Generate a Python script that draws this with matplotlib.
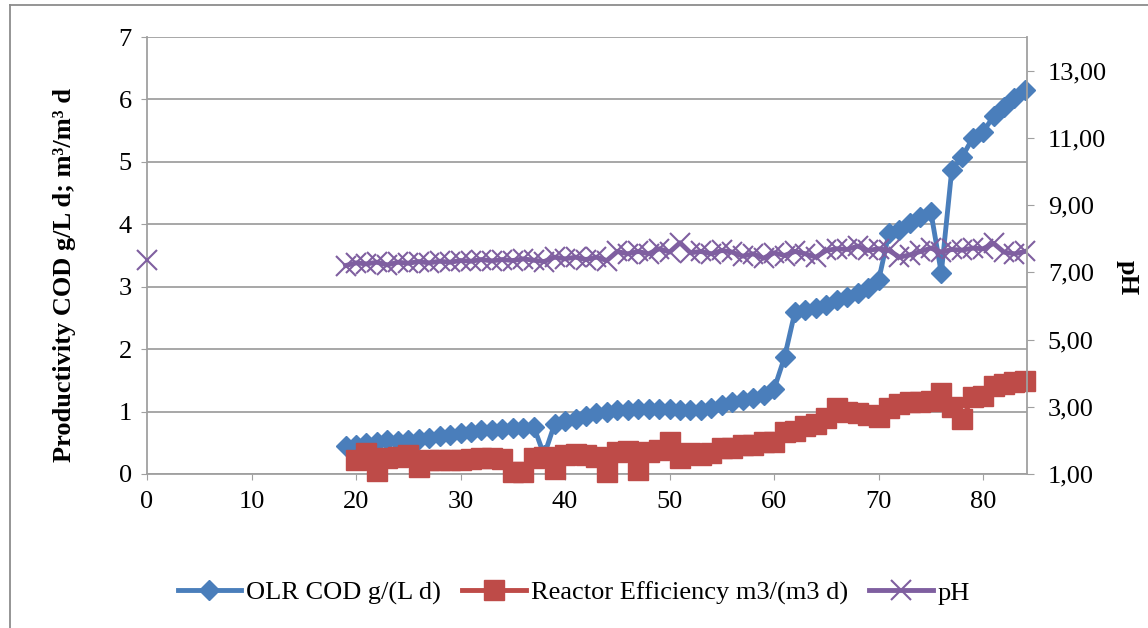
import matplotlib
matplotlib.use('Agg')
import matplotlib.pyplot as plt
from matplotlib.lines import Line2D
from matplotlib.ticker import FuncFormatter

plt.rcParams['font.family'] = ['Liberation Serif', 'DejaVu Serif']
plt.rcParams['font.size'] = 19

# OLR COD g/(L d), days 19..84
olr_day = list(range(19, 85))
olr = [0.45, 0.47, 0.50, 0.52, 0.54, 0.53, 0.55, 0.56, 0.58, 0.61,
       0.63, 0.65, 0.68, 0.70, 0.71, 0.72, 0.73, 0.74, 0.76, 0.30,
       0.80, 0.85, 0.88, 0.93, 0.97, 1.00, 1.02, 1.03, 1.04, 1.04,
       1.04, 1.04, 1.03, 1.03, 1.02, 1.05, 1.10, 1.15, 1.18, 1.21,
       1.26, 1.36, 1.87, 2.60, 2.63, 2.66, 2.71, 2.79, 2.84, 2.90,
       2.98, 3.10, 3.86, 3.91, 4.02, 4.12, 4.20, 3.22, 4.87, 5.08,
       5.38, 5.48, 5.73, 5.88, 6.02, 6.15]

# Reactor efficiency m3/(m3 d), days 20..84
eff_day = list(range(20, 85))
eff = [0.22, 0.33, 0.05, 0.26, 0.28, 0.30, 0.12, 0.22, 0.22, 0.22,
       0.23, 0.24, 0.25, 0.25, 0.24, 0.03, 0.03, 0.25, 0.27, 0.08,
       0.30, 0.32, 0.30, 0.27, 0.03, 0.35, 0.37, 0.07, 0.36, 0.38,
       0.52, 0.26, 0.33, 0.31, 0.33, 0.41, 0.42, 0.46, 0.47, 0.51,
       0.52, 0.68, 0.69, 0.77, 0.80, 0.90, 1.05, 1.00, 0.97, 0.95,
       0.92, 1.06, 1.12, 1.15, 1.15, 1.17, 1.29, 1.07, 0.88, 1.23,
       1.25, 1.41, 1.44, 1.47, 1.49]

# pH: single reading at day 0, then days 19..84
ph0_day = [0]
ph0 = [7.37]
ph_day = list(range(19, 85))
ph = [7.20, 7.28, 7.25, 7.30, 7.22, 7.30, 7.27, 7.32, 7.28, 7.33,
      7.30, 7.35, 7.33, 7.38, 7.34, 7.38, 7.35, 7.40, 7.36, 7.32,
      7.45, 7.40, 7.45, 7.38, 7.45, 7.35, 7.62, 7.55, 7.62, 7.55,
      7.70, 7.60, 7.88, 7.58, 7.62, 7.55, 7.65, 7.60, 7.48, 7.55,
      7.42, 7.58, 7.50, 7.62, 7.55, 7.45, 7.65, 7.70, 7.68, 7.78,
      7.65, 7.70, 7.65, 7.45, 7.52, 7.62, 7.72, 7.60, 7.68, 7.66,
      7.72, 7.70, 7.86, 7.60, 7.55, 7.62]

labels = ['OLR COD g/(L d)', 'Reactor Efficiency m3/(m3 d)', 'pH']
blue, red, purple = '#4A7EBB', '#BE4B48', '#7F5FA0'
axis_grey = '#a0a0a0'

W, H = 1148, 628
fig = plt.figure(figsize=(W / 100, H / 100), dpi=100)
ax = fig.add_axes([147 / W, 1 - 474 / H, 880 / W, 437 / H])
ax2 = ax.twinx()

blue_style = dict(color=blue, lw=3.5, marker='D', ms=10, clip_on=False)
red_style = dict(color=red, lw=3.5, marker='s', ms=14, clip_on=False)
purple_style = dict(color=purple, lw=3.5, marker='x', ms=14, mew=1.5, clip_on=False)

ax.plot(olr_day, olr, zorder=3, **blue_style)
ax.plot(eff_day, eff, zorder=4, **red_style)
ax2.plot(ph0_day, ph0, **purple_style)
ax2.plot(ph_day, ph, **purple_style)

ax.set_xlim(0, 84.2)
ax.set_ylim(0, 7)
ax2.set_ylim(1, 14)
ax.set_xticks(range(0, 81, 10))
ax.set_yticks(range(0, 8))
ax2.set_yticks(range(1, 14, 2))
ax2.yaxis.set_major_formatter(FuncFormatter(lambda v, p: f'{v:.2f}'.replace('.', ',')))

ax.yaxis.grid(True, color=axis_grey, lw=1.3)
ax.set_axisbelow(True)

for a in (ax, ax2):
    for s in a.spines.values():
        s.set_color(axis_grey)
        s.set_linewidth(1.3)
    a.spines['top'].set_visible(False)
ax.spines['right'].set_visible(False)
ax2.spines['left'].set_visible(False)
ax2.spines['bottom'].set_visible(False)

ax.tick_params(axis='y', length=4, color=axis_grey, pad=7)
ax.tick_params(axis='x', length=4, color=axis_grey, pad=8)
ax2.tick_params(axis='y', length=5, color=axis_grey, pad=10)

fig.text(65 / W, 1 - 275 / H, 'Productivity COD g/L d; m\u00b3/m\u00b3 d',
         rotation=90, ha='center', va='center', fontweight='bold')
fig.text(1127 / W, 1 - 278 / H, 'pH', rotation=270, ha='center', va='center',
         fontweight='bold')

handles = [Line2D([], [], **{k: v for k, v in st.items() if k != 'clip_on'})
           for st in (blue_style, red_style, purple_style)]
fig.legend(handles, labels, loc='center', bbox_to_anchor=(0.5, 1 - 593 / H),
           ncol=3, frameon=False, handlelength=2.4, handletextpad=0.2,
           columnspacing=0.8)

# chart area border (left and top edges visible)
fig.add_artist(Line2D([10 / W, 10 / W], [0, 1 - 5 / H], transform=fig.transFigure,
                      color='#8c8c8c', lw=1.3))
fig.add_artist(Line2D([10 / W, 1], [1 - 5 / H, 1 - 5 / H], transform=fig.transFigure,
                      color='#8c8c8c', lw=1.3))

fig.savefig('out.png', dpi=100)
